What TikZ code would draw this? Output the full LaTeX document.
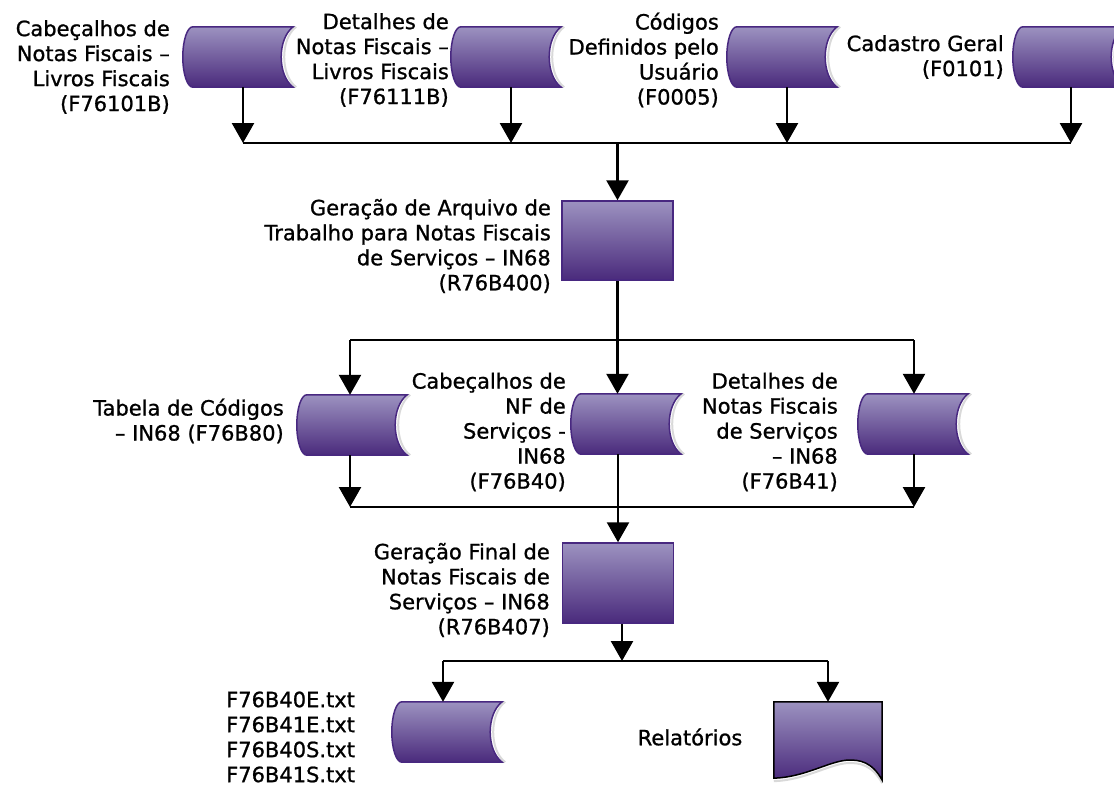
\documentclass[tikz,border=0pt]{standalone}
\usepackage{fontspec}
\setmainfont{DejaVu Sans}[FakeBold=1]
\usetikzlibrary{arrows.meta,calc}
\definecolor{flowtop}{RGB}{156,146,192}
\definecolor{flowbot}{RGB}{74,42,124}
\definecolor{flowedge}{RGB}{72,40,128}
\tikzset{
    store/.style = {minimum width=110bp, minimum height=60bp, inner sep=0pt},
    process/.style = {draw=flowedge, line width=1.5bp, top color=flowtop, bottom color=flowbot, minimum width=111bp, minimum height=79bp, inner sep=0pt},
    label-text/.style = {align=right, inner sep=0pt, anchor=east, font=\fontsize{21bp}{25bp}\selectfont},
    flow/.style = {line width=2.6bp},
    flow-arrow/.style = {flow, -{Triangle[width=22bp,length=20bp]}},
}
\newcommand{\storeshape}[1]{%
  \draw[gray!30, line width=2bp] ([xshift=3bp]#1.north east) .. controls ([xshift=-13bp,yshift=-12bp]#1.north east) and ([xshift=-13bp,yshift=12bp]#1.south east) .. ([xshift=3bp]#1.south east);
  \shade[top color=flowtop, bottom color=flowbot, draw=flowedge, line width=1.5bp]
    ([xshift=10bp]#1.north west) -- (#1.north east)
    .. controls ([xshift=-16bp,yshift=-12bp]#1.north east) and ([xshift=-16bp,yshift=12bp]#1.south east) .. (#1.south east)
    -- ([xshift=10bp]#1.south west)
    .. controls ([xshift=4.5bp]#1.south west) and ([yshift=13.4bp]#1.south west) .. (#1.west)
    .. controls ([yshift=-13.4bp]#1.north west) and ([xshift=4.5bp]#1.north west) .. ([xshift=10bp]#1.north west) -- cycle;
}

\begin{document}
\begin{tikzpicture}[x=1bp,y=-1bp]
\useasboundingbox (0,0) rectangle (1114,786);

% input tables
\node[store] (s1) at (238,57) {};
\node[store] (s2) at (506,57) {};
\node[store] (s3) at (782,57) {};
\node[store] (s4) at (1068,57) {};
\node[label-text] (l1) at (170,67) {Cabeçalhos de\\Notas Fiscais –\\Livros Fiscais\\(F76101B)};
\node[label-text] (l2) at (449,60) {Detalhes de\\Notas Fiscais –\\Livros Fiscais\\(F76111B)};
\node[label-text] (l3) at (719,60) {Códigos\\Definidos pelo\\Usuário\\(F0005)};
\node[label-text] (l4) at (1004,57) {Cadastro Geral\\(F0101)};

% first program
\node[process] (p1) at (617.5,240.5) {};
\node[label-text] (g1) at (551,246) {Geração de Arquivo de\\Trabalho para Notas Fiscais\\de Serviços – IN68\\(R76B400)};

% work tables
\node[store] (t1) at (352,425) {};
\node[store] (t2) at (626,424) {};
\node[store] (t3) at (913,424) {};
\node[label-text] (la) at (284,421) {Tabela de Códigos\\– IN68 (F76B80)};
\node[label-text] (lb) at (566,432) {Cabeçalhos de\\NF de\\Serviços -\\IN68\\(F76B40)};
\node[label-text] (lc) at (838,432) {Detalhes de\\Notas Fiscais\\de Serviços\\– IN68\\(F76B41)};

% second program
\node[process, minimum height=80bp] (p2) at (618,583) {};
\node[label-text] (g2) at (550,590) {Geração Final de\\Notas Fiscais de\\Serviços – IN68\\(R76B407)};

% outputs
\node[store] (o1) at (447,732) {};
\node[minimum width=108bp, minimum height=78bp, inner sep=0pt] (doc) at (828,741) {};
\node[label-text, align=left, anchor=west] (files) at (226,737) {F76B40E.txt\\F76B41E.txt\\F76B40S.txt\\F76B41S.txt};
\node[label-text, anchor=center] (rel) at (690,737) {Relatórios};

\foreach \n in {s1,s2,s3,s4,t1,t2,t3,o1} {\storeshape{\n}}
\draw[gray!30, line width=2bp] ([yshift=-3bp]doc.south east)
  .. controls ([xshift=-10bp,yshift=15bp]doc.south east) and ([xshift=-22bp,yshift=18bp]doc.south east) .. ([xshift=-36bp,yshift=17bp]doc.south east)
  .. controls ([xshift=-55bp,yshift=15bp]doc.south east) and ([xshift=-78bp,yshift=0bp]doc.south east) .. ([yshift=-1bp]doc.south west);
\shade[top color=flowtop, bottom color=flowbot, draw=black, line width=1.5bp]
  (doc.north west) -- (doc.north east) -- (doc.south east)
  .. controls ([xshift=-10bp,yshift=18bp]doc.south east) and ([xshift=-22bp,yshift=21bp]doc.south east) .. ([xshift=-36bp,yshift=20bp]doc.south east)
  .. controls ([xshift=-55bp,yshift=18bp]doc.south east) and ([xshift=-78bp,yshift=3bp]doc.south east) .. ([yshift=2bp]doc.south west) -- cycle;

% connectors
\coordinate (j1) at (243,143);
\coordinate (j2) at (511,143);
\coordinate (j3) at (787,143);
\coordinate (j4) at (1071,143);
\foreach \s/\j in {s1/j1,s2/j2,s3/j3,s4/j4} {\draw[flow-arrow] (\s.south -| \j) -- (\j);}
\draw[flow] (j1) -- (j4);
\draw[flow-arrow] (p1.north |- j1) -- (p1.north);

\coordinate (k1) at (350,340);
\coordinate (k3) at (914,340);
\draw[flow] (p1.south) -- (p1.south |- k1);
\draw[flow] (k1) -- (k3);
\draw[flow-arrow] (k1) -- (t1.north -| k1);
\draw[flow-arrow] (p1.south |- k1) -- (t2.north -| p1.south);
\draw[flow-arrow] (k3) -- (t3.north -| k3);

\coordinate (m1) at (350,507);
\coordinate (m3) at (914,507);
\draw[flow-arrow] (t1.south -| m1) -- (m1);
\draw[flow-arrow] (t3.south -| m3) -- (m3);
\draw[flow] (m1) -- (m3);
\draw[flow-arrow] (t2.south -| p2.north) -- (p2.north);

\coordinate (n0) at (622,661);
\coordinate (n1) at (443,661);
\coordinate (n2) at (828,661);
\draw[flow-arrow] (p2.south -| n0) -- (n0);
\draw[flow] (n1) -- (n2);
\draw[flow-arrow] (n1) -- (o1.north -| n1);
\draw[flow-arrow] (n2) -- (doc.north);
\end{tikzpicture}
\end{document}
